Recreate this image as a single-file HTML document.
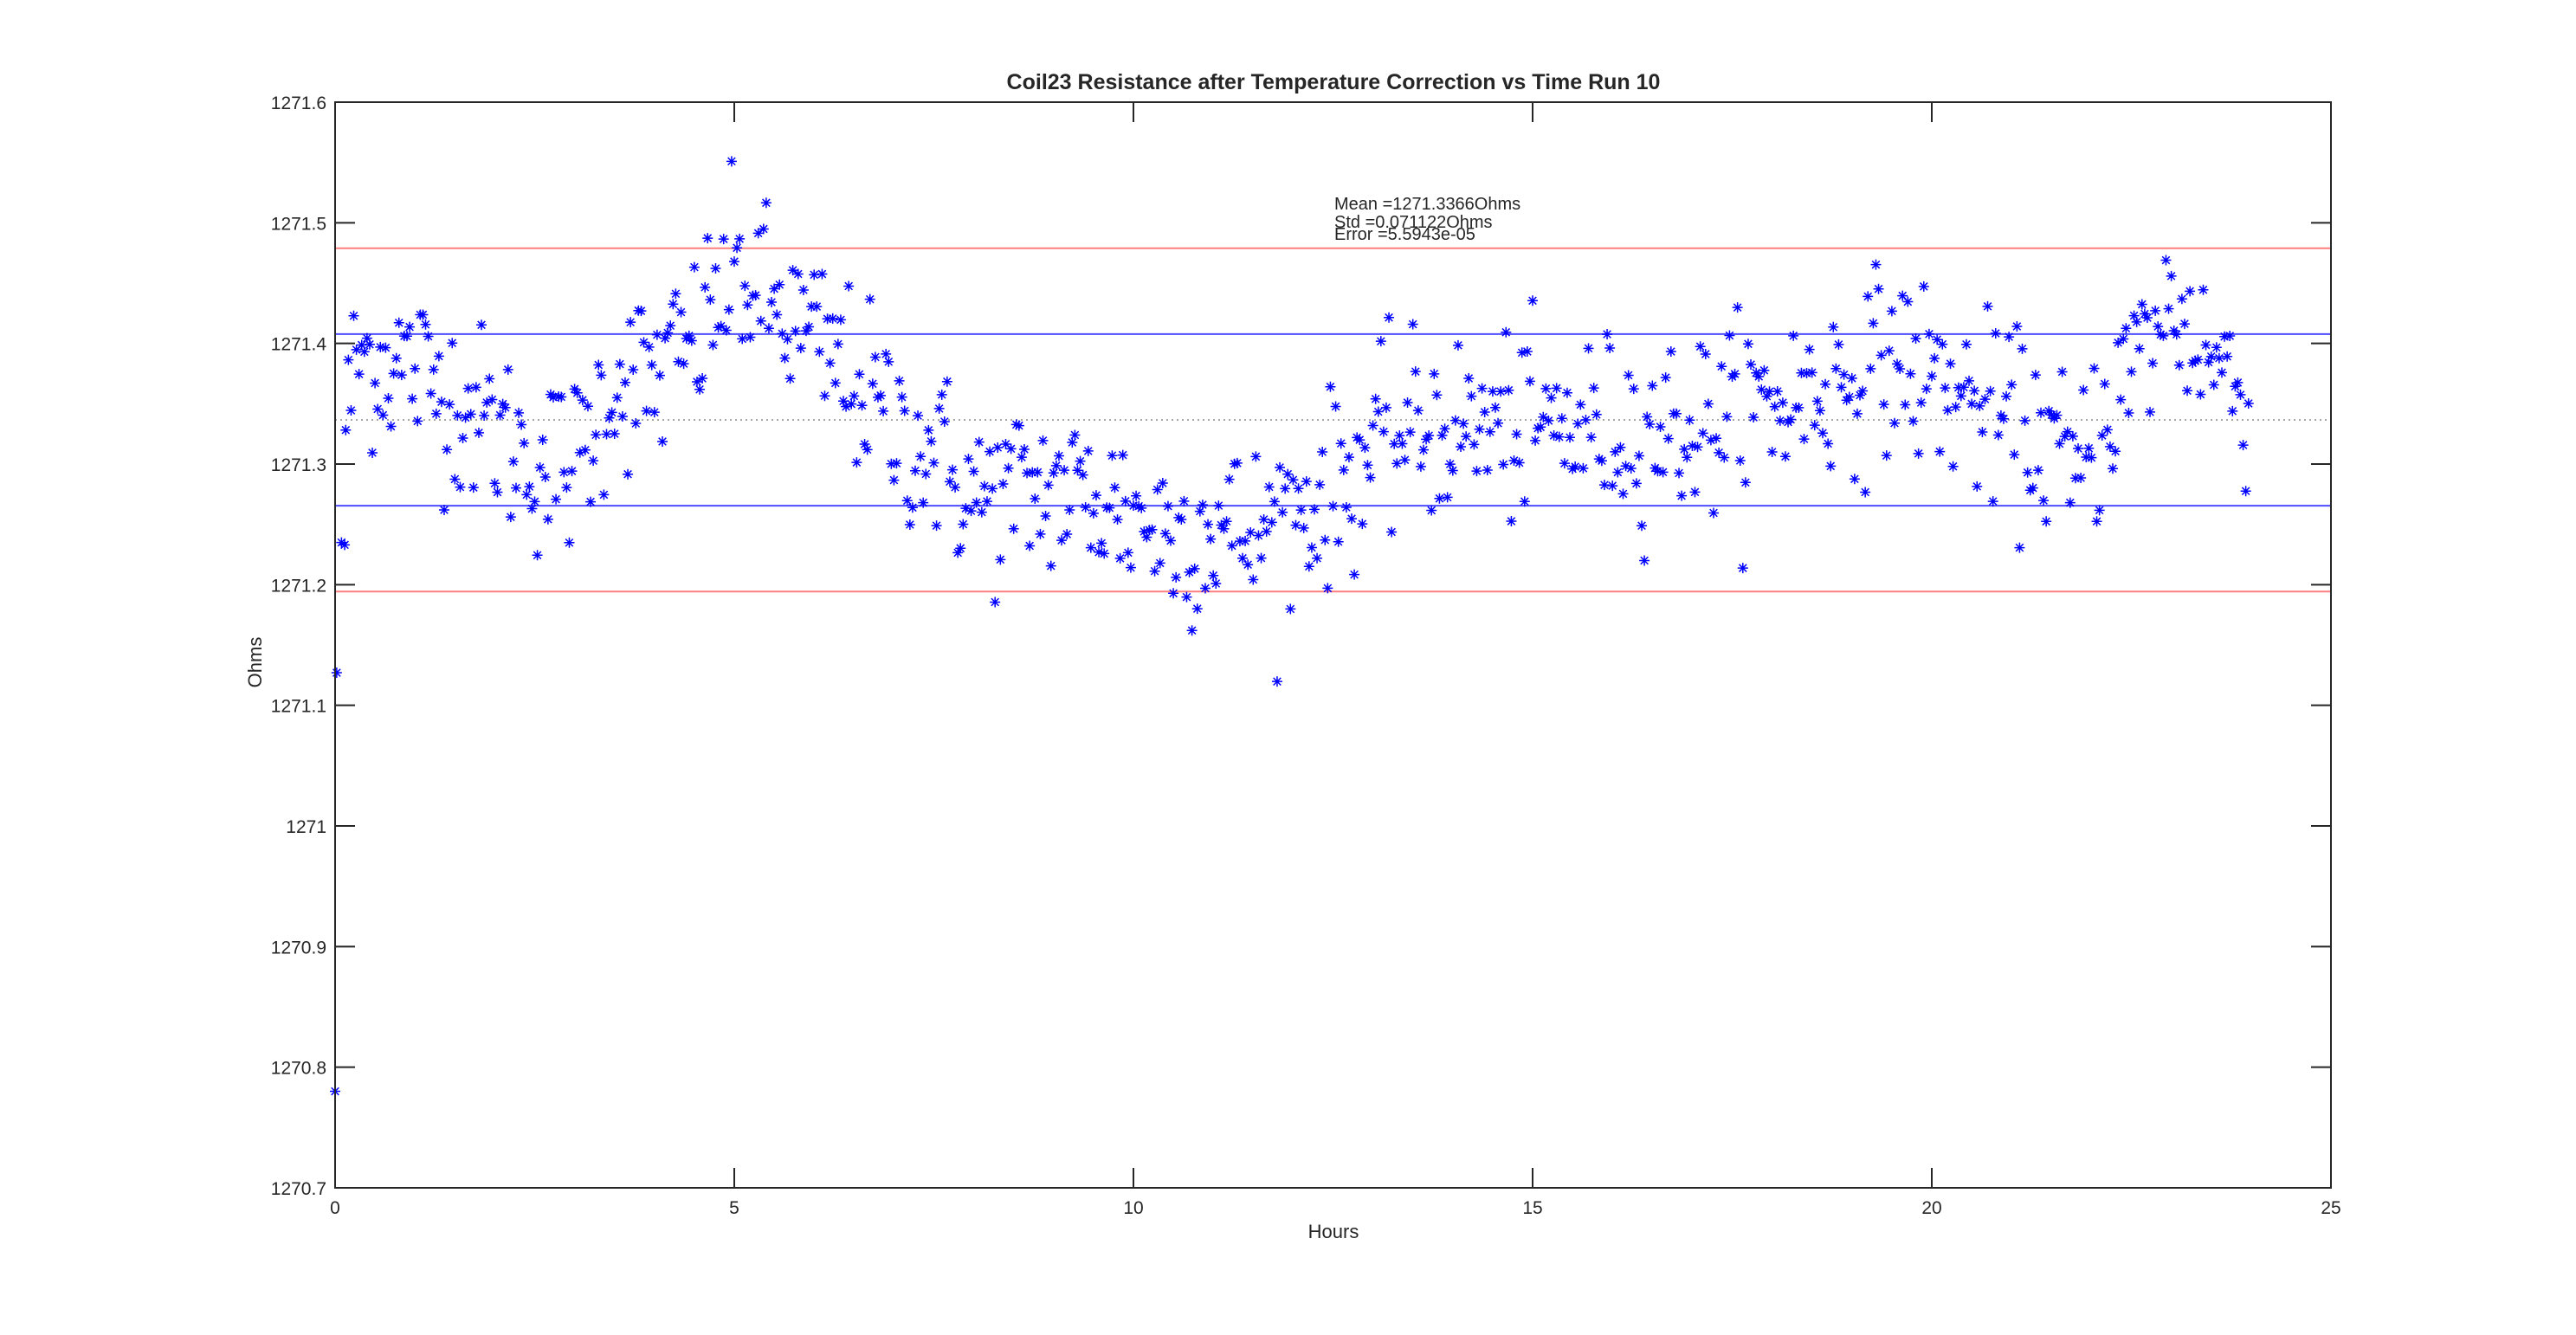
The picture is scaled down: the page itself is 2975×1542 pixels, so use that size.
<!DOCTYPE html>
<html><head><meta charset="utf-8"><style>
html,body{margin:0;padding:0;background:#fff}
svg{display:block}
text{font-family:"Liberation Sans",Arial,sans-serif;fill:#262626}
</style></head><body>
<svg id="s" width="2975" height="1542" viewBox="0 0 2975 1542" xmlns="http://www.w3.org/2000/svg">
<rect width="2975" height="1542" fill="#fff"/>
<g id="lines"></g>
<g id="pts" stroke="#0000ff" stroke-width="1.5" fill="none"></g>
<g id="ax"></g>
<text x="1540" y="103" font-size="25" font-weight="bold" text-anchor="middle" fill="#000">Coil23 Resistance after Temperature Correction vs Time Run 10</text>
<text x="1541" y="242" font-size="20" fill="#000">Mean =1271.3366Ohms</text>
<text x="1541" y="263" font-size="20" fill="#000">Std =0.071122Ohms</text>
<text x="1541" y="277" font-size="20" fill="#000">Error =5.5943e-05</text>
<text x="1540" y="1430" font-size="22" text-anchor="middle">Hours</text>
<text x="0" y="0" font-size="22" text-anchor="middle" transform="translate(302,765) rotate(-90)">Ohms</text>
</svg>
<script>
var L=387,R=2692,T=118,B=1372;
function X(t){return L+(R-L)*t/25}
function Y(v){return T+(B-T)*(1271.6-v)/0.9}
var NS="http://www.w3.org/2000/svg";
function el(p,n,a){var e=document.createElementNS(NS,n);for(var k in a)e.setAttribute(k,a[k]);p.appendChild(e);return e}
var lines=document.getElementById('lines'),ax=document.getElementById('ax'),pts=document.getElementById('pts');
var m=1271.3366,s=0.071122;
[[m+2*s,'#ff7f7f'],[m-2*s,'#ff7f7f'],[m+s,'#4d4dff'],[m-s,'#4d4dff']].forEach(function(q){
el(lines,'line',{x1:L,x2:R,y1:Y(q[0]),y2:Y(q[0]),stroke:q[1],'stroke-width':2});});
el(lines,'line',{x1:L,x2:R,y1:Y(m),y2:Y(m),stroke:'#888','stroke-width':1.5,'stroke-dasharray':'2,4'});
el(ax,'rect',{x:L,y:T,width:R-L,height:B-T,fill:'none',stroke:'#262626','stroke-width':2});
for(var i=0;i<=9;i++){var v=1270.7+i*0.1,y=Y(v);
el(ax,'line',{x1:L,x2:L+23,y1:y,y2:y,stroke:'#262626','stroke-width':2});
el(ax,'line',{x1:R,x2:R-23,y1:y,y2:y,stroke:'#262626','stroke-width':2});
var t=el(ax,'text',{x:L-10,y:y+8,'font-size':21,'text-anchor':'end'});t.textContent=(i==3?'1271':v.toFixed(1));}
for(var i=0;i<=5;i++){var x=X(i*5);
el(ax,'line',{x1:x,x2:x,y1:B,y2:B-23,stroke:'#262626','stroke-width':2});
el(ax,'line',{x1:x,x2:x,y1:T,y2:T+23,stroke:'#262626','stroke-width':2});
var t=el(ax,'text',{x:x,y:1402,'font-size':21,'text-anchor':'middle'});t.textContent=String(i*5);}
var K=[[0,1271.30],[0.3,1271.39],[1,1271.38],[2,1271.33],[2.5,1271.30],[3,1271.30],[3.5,1271.37],[4,1271.37],[4.5,1271.40],[5,1271.46],[5.5,1271.43],[6,1271.40],[6.5,1271.37],[7,1271.33],[7.5,1271.31],[8,1271.27],[9,1271.28],[10,1271.26],[10.5,1271.24],[11,1271.25],[11.5,1271.24],[12,1271.26],[12.5,1271.28],[13,1271.31],[13.5,1271.33],[15,1271.33],[17,1271.33],[18,1271.35],[19,1271.37],[19.5,1271.39],[20,1271.37],[21,1271.33],[21.5,1271.32],[21.8,1271.28],[22,1271.32],[22.5,1271.38],[23,1271.43],[23.5,1271.39],[24,1271.35]];
function tr(t){for(var i=1;i<K.length;i++){if(t<=K[i][0]){var a=K[i-1],b=K[i];return a[1]+(b[1]-a[1])*(t-a[0])/(b[0]-a[0]);}}return K[K.length-1][1]}
var seed=12345;function rnd(){seed=(seed*1103515245+12345)%2147483648;return seed/2147483648}
function gauss(){var u=rnd()||1e-9,v=rnd();return Math.sqrt(-2*Math.log(u))*Math.cos(2*Math.PI*v)}
var d="";
function star(x,y){var r=6,q=4.3;d+="M"+(x-r)+" "+y+"h"+(2*r)+"M"+x+" "+(y-r)+"v"+(2*r)+"M"+(x-q)+" "+(y-q)+"l"+(2*q)+" "+(2*q)+"M"+(x-q)+" "+(y+q)+"l"+(2*q)+" "+(-2*q);}
star(X(0),Y(1270.78));star(X(0.02),Y(1271.127));star(X(0.08),Y(1271.235));star(X(0.12),Y(1271.233));
for(var i=4;i<720;i++){var t=i*24/720;var v=tr(t)+gauss()*0.038;star(X(t),Y(v));}
el(pts,'path',{d:d});
</script>
</body></html>
